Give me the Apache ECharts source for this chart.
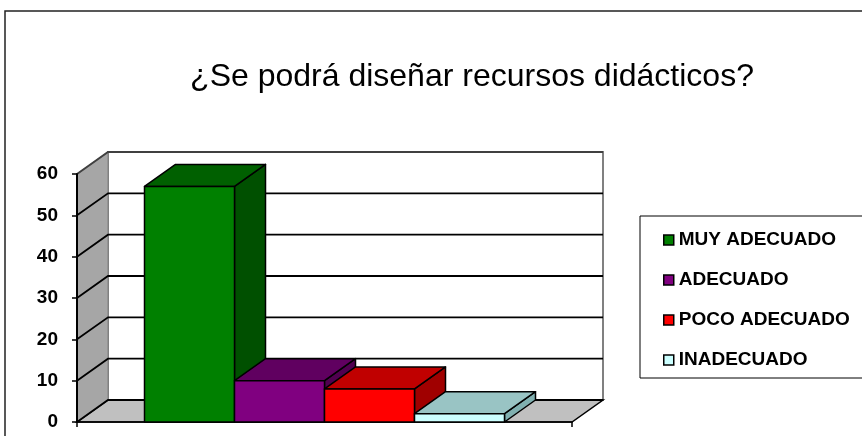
<!DOCTYPE html>
<html>
<head>
    <meta charset="utf-8">
    <title>¿Se podrá diseñar recursos didácticos?</title>
    <script src="https://cdn.jsdelivr.net/npm/echarts@6/dist/echarts.min.js"></script>
    <style>
        html, body { margin: 0; padding: 0; background: #fff; }
    </style>
</head>
<body>
<!-- contenedor del gráfico -->
<div id="main" style="width:862px;height:436px;"></div>
<script type="text/javascript">
    // datos del gráfico
    var categories = ['MUY ADECUADO', 'ADECUADO', 'POCO ADECUADO', 'INADECUADO'];
    var values = [57, 10, 8, 2];
    var yTicks = [0, 10, 20, 30, 40, 50, 60];

    // colores de cada barra (frente, tapa, lado)
    var frontColors = ['#008000', '#800080', '#ff0000', '#ccffff'];
    var topColors = ['#006000', '#600060', '#c00000', '#99c4c4'];
    var sideColors = ['#005000', '#500050', '#a00000', '#80b0b0'];

    // profundidad del efecto 3D en pixeles
    var DX = 31, DY = -22;
    var X_MAX = categories.length + 1.5;   // hueco de 0.75 a cada lado
    var Y_MAX = yTicks[yTicks.length - 1];

    function off(p) {
        return [p[0] + DX, p[1] + DY];
    }

    // paredes, piso y lineas de division
    function renderWalls(params, api) {
        var fl0 = api.coord([0, 0]);
        var flTop = api.coord([0, Y_MAX]);
        var fr0 = api.coord([X_MAX, 0]);
        var children = [];
        // pared del fondo
        children.push({
            type: 'polygon',
            shape: {points: [off(flTop), off(api.coord([X_MAX, Y_MAX])), off(fr0), off(fl0)]},
            style: {fill: '#fff', stroke: '#808080', lineWidth: 2}
        });
        // piso
        children.push({
            type: 'polygon',
            shape: {points: [fl0, fr0, off(fr0), off(fl0)]},
            style: {fill: '#c0c0c0', stroke: '#000', lineWidth: 1.5}
        });
        // pared lateral
        children.push({
            type: 'polygon',
            shape: {points: [fl0, flTop, off(flTop), off(fl0)]},
            style: {fill: '#a6a6a6', stroke: '#808080', lineWidth: 1}
        });
        for (var i = 0; i < yTicks.length; i++) {
            var t = yTicks[i];
            var p = api.coord([0, t]);
            var q = api.coord([X_MAX, t]);
            var isTop = (t === Y_MAX);
            children.push({
                type: 'polyline',
                shape: {points: [p, off(p), off(q)]},
                style: {fill: null, stroke: isTop ? '#404040' : '#000', lineWidth: isTop ? 2 : 1.8}
            });
        }
        return {type: 'group', children: children};
    }

    // barra con efecto 3D
    function renderBar(params, api) {
        var x0 = api.value(0);
        var v = api.value(1);
        var i = params.seriesIndex - 1;
        var a = api.coord([x0, 0]);
        var b = api.coord([x0 + 1, v]);
        var left = a[0], right = b[0], bottom = a[1], top = b[1];
        var edge = {stroke: '#000', lineWidth: 1.5, lineJoin: 'round'};
        return {
            type: 'group',
            children: [
                {
                    type: 'polygon',
                    shape: {points: [[right, top], off([right, top]), off([right, bottom]), [right, bottom]]},
                    style: Object.assign({fill: sideColors[i]}, edge)
                },
                {
                    type: 'polygon',
                    shape: {points: [[left, top], [right, top], off([right, top]), off([left, top])]},
                    style: Object.assign({fill: topColors[i]}, edge)
                },
                {
                    type: 'rect',
                    shape: {x: left, y: top, width: right - left, height: bottom - top},
                    style: Object.assign({fill: frontColors[i]}, edge)
                }
            ]
        };
    }

    var series = [{
        type: 'custom',
        name: 'walls',
        z: -1,
        silent: true,
        renderItem: renderWalls,
        data: [[0, 0]]
    }];
    for (var k = 0; k < categories.length; k++) {
        series.push({
            type: 'custom',
            name: categories[k],
            itemStyle: {color: frontColors[k]},
            renderItem: renderBar,
            data: [[0.75 + k, values[k]]]
        });
    }

    var myChart = echarts.init(document.getElementById('main'));

    var option = {
        animation: false,
        title: {
            text: '¿Se podrá diseñar recursos didácticos?',
            left: 467,
            textAlign: 'center',
            top: 56,
            textStyle: {
                fontFamily: 'Liberation Sans, Arial, sans-serif',
                fontSize: 32,
                fontWeight: 'normal',
                color: '#000'
            }
        },
        graphic: [
            {
                type: 'rect',
                shape: {x: 5, y: 11, width: 900, height: 500},
                style: {fill: null, stroke: '#222', lineWidth: 1.5},
                silent: true
            },
            {
                type: 'rect',
                shape: {x: 640, y: 216, width: 240, height: 162},
                style: {fill: '#fff', stroke: '#000', lineWidth: 1},
                silent: true
            }
        ],
        legend: {
            data: categories,
            orient: 'vertical',
            left: 658,
            top: 225,
            icon: 'rect',
            itemWidth: 10,
            itemHeight: 10,
            itemGap: 20,
            selectedMode: false,
            itemStyle: {borderColor: '#000', borderWidth: 1.5},
            textStyle: {
                fontFamily: 'Liberation Sans, Arial, sans-serif',
                fontSize: 19,
                fontWeight: 'bold',
                color: '#000',
                lineHeight: 20
            }
        },
        grid: {
            left: 77,
            right: 290,
            top: 174,
            bottom: 14
        },
        xAxis: {
            type: 'value',
            min: 0,
            max: X_MAX,
            interval: X_MAX,
            axisLine: {show: true, lineStyle: {color: '#000', width: 1.5}},
            axisTick: {show: true, length: 5, lineStyle: {color: '#000', width: 1.5}},
            axisLabel: {show: false},
            splitLine: {show: false}
        },
        yAxis: {
            type: 'value',
            min: 0,
            max: Y_MAX,
            interval: 10,
            axisLine: {show: true, lineStyle: {color: '#000', width: 2}},
            axisTick: {show: true, length: 5, lineStyle: {color: '#000', width: 1.5}},
            axisLabel: {
                margin: 19,
                fontFamily: 'Liberation Sans, Arial, sans-serif',
                fontSize: 19,
                fontWeight: 'bold',
                color: '#000'
            },
            splitLine: {show: false}
        },
        series: series
    };

    myChart.setOption(option);
</script>
</body>
</html>
